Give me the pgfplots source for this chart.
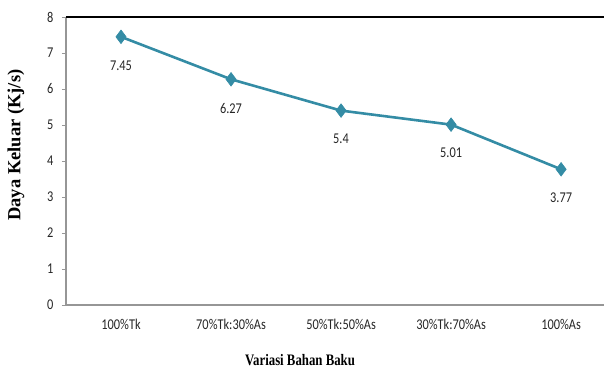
\documentclass[border=0pt]{standalone}
\usepackage{graphicx}
\usepackage{pgfplots}
\pgfplotsset{compat=1.18}
\usepackage{fontspec}
\setmainfont{Carlito}
\newfontfamily\serifbold{Liberation Serif}
\definecolor{lineteal}{RGB}{52,140,165}
\definecolor{axisgray}{RGB}{150,150,150}
% narrow, tall lettering for all labels
\newcommand\tall[1]{\scalebox{0.95}[1.15]{#1}}
\newcommand\tallt[1]{\scalebox{0.8}[1.0]{#1}}
\begin{document}
\begin{tikzpicture}
\useasboundingbox (0,0) rectangle (604pt,374pt);
\begin{axis}[
  at={(66pt,69pt)}, anchor=south west,
  scale only axis,
  width=538pt, height=288pt,
  xmin=-0.5, xmax=4.39,
  ymin=0, ymax=8,
  ytick={0,1,...,8},
  xtick={0,1,2,3,4},
  xticklabels={\tall{100\%Tk},\tall{70\%Tk:30\%As},\tall{50\%Tk:50\%As},\tall{30\%Tk:70\%As},\tall{100\%As}},
  yticklabel={\tall{\pgfmathprintnumber{\tick}}},
  axis x line*=bottom,
  axis y line*=left,
  axis line style={axisgray, line width=1.2pt, -},
  x tick style={draw=none},
  y tick style={axisgray, line width=0.8pt},
  major tick length=4pt,
  tick align=outside,
  ticklabel style={font=\fontsize{13}{15}\selectfont, text=black!85},
  /pgf/number format/assume math mode=true,
  xticklabel style={yshift=-7pt},
  yticklabel style={xshift=-5pt},
  xlabel={\tallt{\serifbold\bfseries Variasi Bahan Baku}},
  ylabel={\serifbold\bfseries Daya Keluar (Kj/s)},
  xlabel style={font=\fontsize{16}{18}\selectfont, at={(axis description cs:0.435,0)}, anchor=north, yshift=-46pt},
  every axis y label/.style={font=\fontsize{18.5}{20}\selectfont, at={(axis description cs:0,0.555)}, xshift=-38pt, rotate=90, anchor=south},
  clip=false,
  point meta=explicit symbolic,
  nodes near coords={\tall{\pgfplotspointmeta}},
  nodes near coords style={font=\fontsize{13}{15}\selectfont, text=black!85, anchor=north, yshift=-20pt},
]
\draw[black, line width=1.5pt] (axis cs:-0.5,8) -- (axis cs:4.39,8);
\addplot[color=lineteal, line width=2.6pt, mark=diamond*, mark size=6.8pt,
  mark options={fill=lineteal, draw=lineteal, line width=0.6pt}]
  coordinates {
    (0,7.45) [7.45]
    (1,6.27) [6.27]
    (2,5.40) [5.4]
    (3,5.01) [5.01]
    (4,3.77) [3.77]
  };
\end{axis}
\end{tikzpicture}
\end{document}
